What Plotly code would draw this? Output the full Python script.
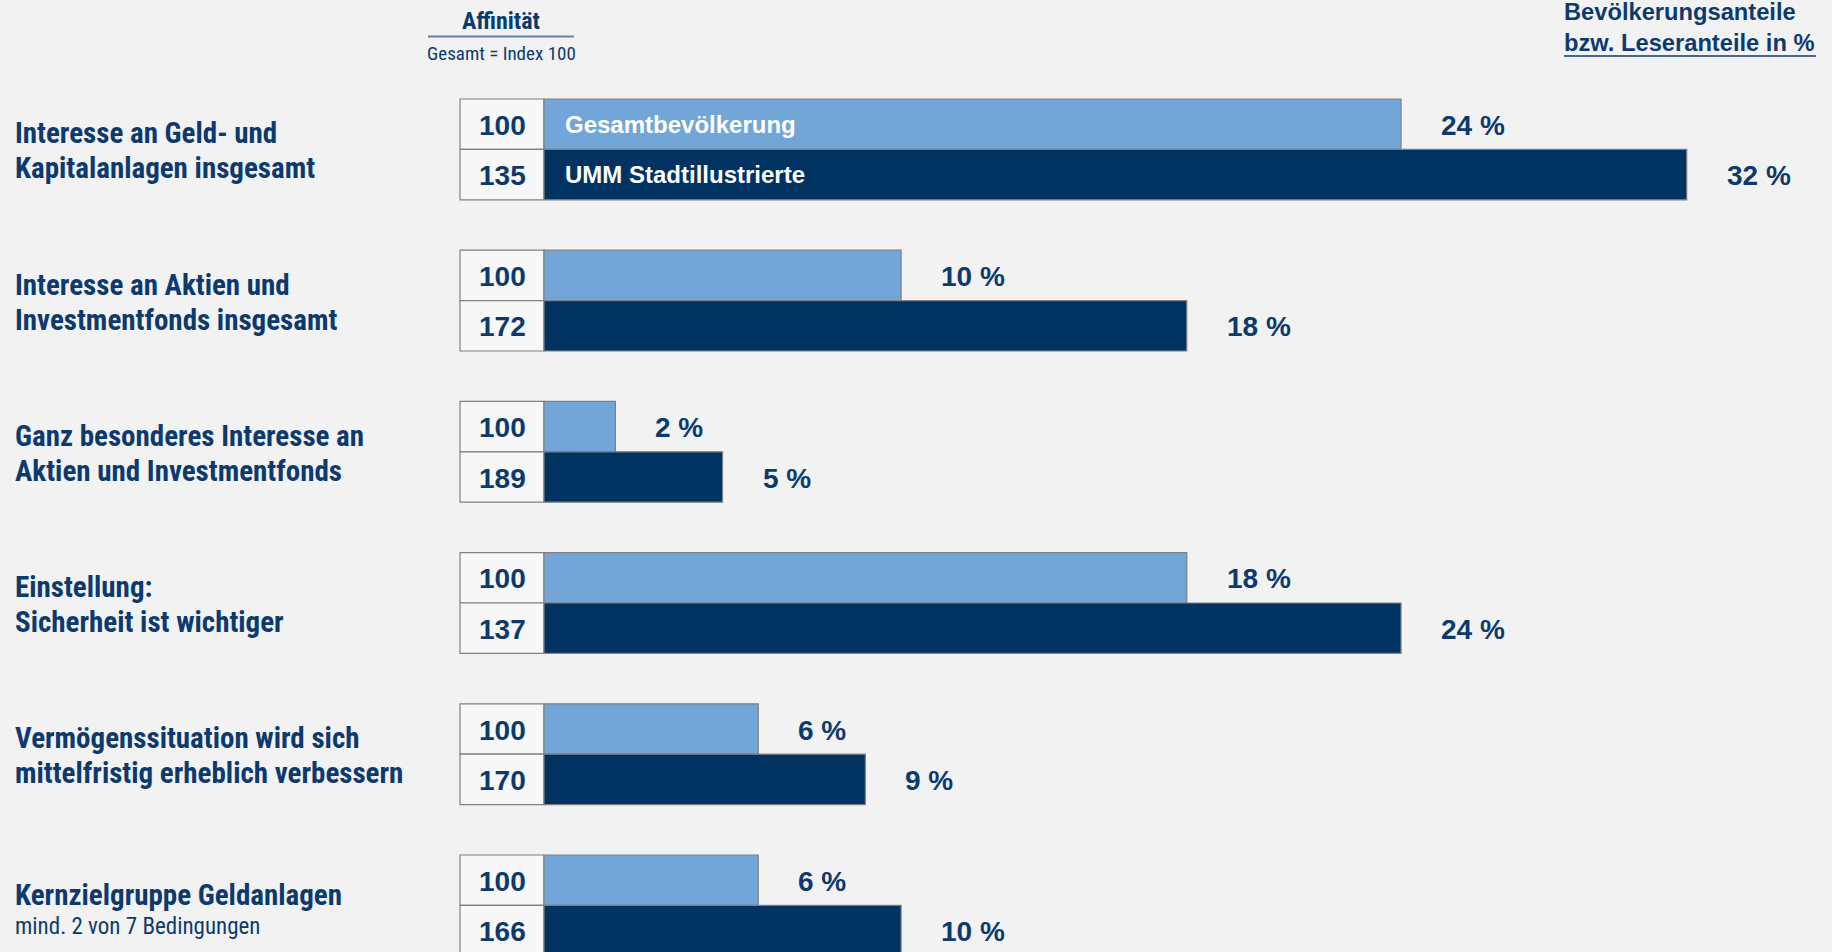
import plotly.graph_objects as go

# ---------------- data ----------------
categories = [
    "Interesse an Geld- und<br>Kapitalanlagen insgesamt",
    "Interesse an Aktien und<br>Investmentfonds insgesamt",
    "Ganz besonderes Interesse an<br>Aktien und Investmentfonds",
    "Einstellung:<br>Sicherheit ist wichtiger",
    "Vermögenssituation wird sich<br>mittelfristig erheblich verbessern",
    "Kernzielgruppe Geldanlagen",
]
last_subtitle = "mind. 2 von 7 Bedingungen"
pop_share = [24, 10, 2, 18, 6, 6]          # Gesamtbevölkerung %
umm_share = [32, 18, 5, 24, 9, 10]         # UMM Stadtillustrierte %
pop_index = [100, 100, 100, 100, 100, 100]
umm_index = [135, 172, 189, 137, 170, 166]
series_names = ["Gesamtbevölkerung", "UMM Stadtillustrierte"]

# ---------------- layout constants ----------------
W, H = 1832, 952
X0_PX = 544          # pixel of 0 %
PX_PER_PCT = 35.71
UNIT_PX = 50.4       # one bar height in pixels (y unit)
TOP_PX = 99          # top of first group
BOX_PX = 84          # width of index box

LIGHT = "#72a6d8"
DARK = "#003262"
NAVY = "#0d3a6e"
BORDER = "#808080"
BG = "#f2f2f2"
COND = "Roboto Condensed, Open Sans Condensed, Liberation Sans Narrow, sans-serif"
SANS = "Liberation Sans, Arial, Helvetica, sans-serif"

x_min = -X0_PX / PX_PER_PCT
x_max = (W - X0_PX) / PX_PER_PCT
y_max = H / UNIT_PX
box_w = BOX_PX / PX_PER_PCT
top_u = TOP_PX / UNIT_PX

n = len(categories)
y_light = [top_u + 0.5 + 3 * g for g in range(n)]
y_dark = [top_u + 1.5 + 3 * g for g in range(n)]
y_center = [top_u + 1.0 + 3 * g for g in range(n)]

fig = go.Figure()

# index boxes
fig.add_trace(go.Bar(
    orientation="h", y=y_light + y_dark, x=[box_w] * (2 * n), base=[-box_w] * (2 * n),
    width=1, marker=dict(color="#f7f7f7", line=dict(color=BORDER, width=1.2)),
    hoverinfo="skip", showlegend=False))
# bars
fig.add_trace(go.Bar(
    orientation="h", y=y_light, x=pop_share, width=1, name=series_names[0],
    marker=dict(color=LIGHT, line=dict(color=BORDER, width=1.2)), showlegend=False))
fig.add_trace(go.Bar(
    orientation="h", y=y_dark, x=umm_share, width=1, name=series_names[1],
    marker=dict(color=DARK, line=dict(color=BORDER, width=1.2)), showlegend=False))

ann = []
for g in range(n):
    # index numbers
    for yy, idx in ((y_light[g], pop_index[g]), (y_dark[g], umm_index[g])):
        ann.append(dict(x=-box_w / 2, y=yy, xref="x", yref="y", text=str(idx), yshift=-1,
                        showarrow=False, xanchor="center", yanchor="middle",
                        font=dict(family=SANS, size=28, color=NAVY, weight="bold")))
    # percent labels
    for yy, v in ((y_light[g], pop_share[g]), (y_dark[g], umm_share[g])):
        ann.append(dict(x=v, y=yy, xref="x", yref="y", text=f"{v} %", xshift=38, yshift=-1,
                        showarrow=False, xanchor="left", yanchor="middle",
                        font=dict(family=SANS, size=28, color=NAVY, weight="bold")))
    # category labels (one annotation per line)
    lines = categories[g].split("<br>")
    if g < n - 1:
        shifts = [16, -19]
        fonts = [dict(family=COND, size=29, color=NAVY, weight="bold")] * 2
    else:
        lines = lines + [last_subtitle]
        shifts = [10, -21]
        fonts = [dict(family=COND, size=29, color=NAVY, weight="bold"),
                 dict(family=COND, size=23, color=NAVY)]
    for txt, sh, fnt in zip(lines, shifts, fonts):
        ann.append(dict(x=13 / W, y=y_center[g], xref="paper", yref="y", yshift=sh,
                        text=txt, showarrow=False, xanchor="left", yanchor="middle",
                        align="left", font=fnt))

# series names inside first group's bars
for yy, name in ((y_light[0], series_names[0]), (y_dark[0], series_names[1])):
    ann.append(dict(x=0, y=yy, xref="x", yref="y", text=name, xshift=19,
                    showarrow=False, xanchor="left", yanchor="middle",
                    font=dict(family=SANS, size=24, color="white", weight="bold")))

def px(xp):
    return xp / W

def py(yp):
    return 1 - yp / H

# headers
ann.append(dict(x=px(501), y=py(21), xref="paper", yref="paper", text="Affinität",
                showarrow=False, xanchor="center", yanchor="middle",
                font=dict(family=COND, size=24, color=NAVY, weight="bold")))
ann.append(dict(x=px(501), y=py(53), xref="paper", yref="paper", text="Gesamt = Index 100",
                showarrow=False, xanchor="center", yanchor="middle",
                font=dict(family=COND, size=19, color=NAVY)))
ann.append(dict(x=px(1562), y=py(27), xref="paper", yref="paper",
                text="Bevölkerungsanteile<br>bzw. Leseranteile in %",
                showarrow=False, xanchor="left", yanchor="middle", align="left",
                font=dict(family=SANS, size=23.7, color=NAVY, weight="bold")))

shapes = [
    dict(type="line", xref="paper", yref="paper", x0=px(428), x1=px(574), y0=py(36.5), y1=py(36.5),
         line=dict(color="#5f82ab", width=2)),
    dict(type="line", xref="paper", yref="paper", x0=px(1564), x1=px(1816), y0=py(56), y1=py(56),
         line=dict(color=NAVY, width=1.5)),
]

fig.update_layout(
    width=W, height=H, barmode="overlay",
    margin=dict(l=0, r=0, t=0, b=0),
    paper_bgcolor=BG, plot_bgcolor=BG,
    xaxis=dict(range=[x_min, x_max], visible=False, fixedrange=True),
    yaxis=dict(range=[y_max, 0], visible=False, fixedrange=True),
    annotations=ann, shapes=shapes, showlegend=False,
)

fig.write_html("out.html", config={"displayModeBar": False},
               post_script="document.body.style.margin='0';document.body.style.overflow='hidden';")
